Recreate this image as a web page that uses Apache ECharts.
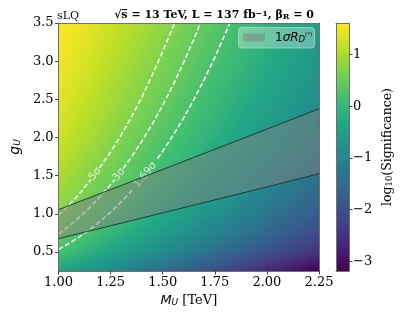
<!DOCTYPE html>
<html><head><meta charset="utf-8">
<script src="https://cdn.jsdelivr.net/npm/echarts@6/dist/echarts.min.js"></script>
<style>html,body{margin:0;padding:0;background:#fff}#c{width:401px;height:316px}</style>
</head><body><div id="c"></div>
<script>
// ---------- data ----------
const M_VALUES = [1.0, 1.125, 1.25, 1.375, 1.5, 1.625, 1.75, 1.875, 2.0, 2.125, 2.25];
const G_VALUES = [0.25, 0.5, 0.75, 1.0, 1.25, 1.5, 1.75, 2.0, 2.25, 2.5, 2.75, 3.0, 3.25, 3.5];
// log10(Significance), one row per G value (bottom to top), one column per M value
const LOG_SIG = [
  [-0.40, -0.66, -0.94, -1.22, -1.50, -1.79, -2.08, -2.36, -2.65, -2.94, -3.19],
  [ 0.18, -0.09, -0.36, -0.63, -0.90, -1.17, -1.44, -1.71, -1.98, -2.25, -2.52],
  [ 0.49,  0.23, -0.03, -0.29, -0.55, -0.81, -1.07, -1.32, -1.58, -1.84, -2.10],
  [ 0.72,  0.46,  0.21, -0.04, -0.30, -0.55, -0.80, -1.05, -1.31, -1.56, -1.81],
  [ 0.89,  0.64,  0.39,  0.15, -0.10, -0.35, -0.59, -0.84, -1.09, -1.34, -1.58],
  [ 1.03,  0.79,  0.54,  0.30,  0.06, -0.18, -0.43, -0.67, -0.91, -1.15, -1.40],
  [ 1.15,  0.91,  0.67,  0.43,  0.19, -0.05, -0.28, -0.52, -0.76, -1.00, -1.24],
  [ 1.25,  1.02,  0.78,  0.54,  0.31,  0.07, -0.16, -0.40, -0.63, -0.87, -1.10],
  [ 1.34,  1.11,  0.88,  0.64,  0.41,  0.18, -0.05, -0.29, -0.52, -0.75, -0.98],
  [ 1.42,  1.19,  0.96,  0.73,  0.50,  0.27,  0.04, -0.19, -0.42, -0.65, -0.88],
  [ 1.48,  1.27,  1.04,  0.81,  0.59,  0.36,  0.13, -0.10, -0.32, -0.55, -0.78],
  [ 1.53,  1.34,  1.11,  0.89,  0.66,  0.44,  0.21, -0.01, -0.24, -0.46, -0.69],
  [ 1.57,  1.40,  1.18,  0.96,  0.73,  0.51,  0.29,  0.06, -0.16, -0.38, -0.61],
  [ 1.61,  1.46,  1.24,  1.02,  0.80,  0.58,  0.35,  0.13, -0.09, -0.31, -0.53]
];
// significance contours [M, g]; null marks the gap left for the inline label
const CONTOUR_5SIGMA = [[1.0,0.98],[1.05,1.115],[1.1,1.26],[1.155,1.45],null,[1.196,1.60],[1.25,1.81],[1.3,2.03],[1.35,2.27],[1.4,2.53],[1.45,2.82],[1.5,3.13],[1.557,3.5]];
const CONTOUR_3SIGMA = [[1.0,0.735],[1.05,0.84],[1.1,0.956],[1.15,1.084],[1.2,1.227],[1.25,1.383],[1.27,1.45],null,[1.31,1.593],[1.35,1.745],[1.4,1.952],[1.45,2.178],[1.5,2.424],[1.55,2.69],[1.6,2.98],[1.65,3.29],[1.68,3.5]];
const CONTOUR_169SIGMA = [[1.0,0.533],[1.05,0.611],[1.1,0.698],[1.15,0.795],[1.2,0.903],[1.25,1.022],[1.3,1.154],[1.355,1.314],null,[1.475,1.725],[1.5,1.822],[1.55,2.029],[1.6,2.254],[1.65,2.5],[1.7,2.765],[1.75,3.05],[1.8,3.36],[1.822,3.5]];
const CONTOUR_LABELS = ['5σ', '3σ', '1.69σ'];
const CONTOUR_LABEL_POS = [[1.175, 1.52], [1.29, 1.515], [1.415, 1.51]];
// 1 sigma R_D(*) band
const BAND_M = [1.0, 1.25, 1.5, 1.75, 2.0, 2.25];
const BAND_UPPER = [1.054, 1.318, 1.58, 1.845, 2.11, 2.375];
const BAND_LOWER = [0.674, 0.843, 1.012, 1.182, 1.352, 1.525];
// ticks
const X_TICKS = [1.0, 1.25, 1.5, 1.75, 2.0, 2.25];
const Y_TICKS = [0.5, 1.0, 1.5, 2.0, 2.5, 3.0, 3.5];
const CB_TICKS = [-3, -2, -1, 0, 1];
const CB_MIN = -3.19, CB_MAX = 1.61;

// ---------- helpers ----------
function hexToRgb(h){return [parseInt(h.slice(1,3),16),parseInt(h.slice(3,5),16),parseInt(h.slice(5,7),16)];}
const VIRIDIS_HEX = ['#440154','#482475','#414487','#355f8d','#2a788e','#21918c','#22a884','#44bf70','#7ad151','#bddf26','#fde725'];
const VIRIDIS = VIRIDIS_HEX.map(hexToRgb);
function viridis(v){
  let t=(v-CB_MIN)/(CB_MAX-CB_MIN); t=Math.max(0,Math.min(1,t));
  const s=t*10, i=Math.min(9,Math.floor(s)), f=s-i, a=VIRIDIS[i], b=VIRIDIS[i+1];
  return 'rgb('+[0,1,2].map(k=>Math.round(a[k]+(b[k]-a[k])*f)).join(',')+')';
}
const cells=[];
for (let j=0;j<G_VALUES.length-1;j++) for (let i=0;i<M_VALUES.length-1;i++)
  cells.push([M_VALUES[i],G_VALUES[j],M_VALUES[i+1],G_VALUES[j+1],LOG_SIG[j][i],LOG_SIG[j][i+1],LOG_SIG[j+1][i],LOG_SIG[j+1][i+1]]);

function renderCell(params, api){
  const p0=api.coord([api.value(0),api.value(1)]), p1=api.coord([api.value(2),api.value(3)]);
  const x=p0[0], y=p1[1], w=p1[0]-p0[0], h=p0[1]-p1[1];
  const v00=api.value(4), v10=api.value(5), v01=api.value(6), v11=api.value(7);
  const gx=((v10-v00)+(v11-v01))/(2*w);
  const gy=((v00-v01)+(v10-v11))/(2*h);
  const vc=(v00+v10+v01+v11)/4, cx=x+w/2, cy=y+h/2, gm=Math.hypot(gx,gy);
  let fill;
  if (gm<1e-9) fill=viridis(vc);
  else {
    const ux=gx/gm, uy=gy/gm, t=0.5*Math.hypot(w,h), vs=vc-t*gm, ve=vc+t*gm, stops=[];
    for (let k=0;k<=6;k++) stops.push({offset:k/6,color:viridis(vs+(ve-vs)*k/6)});
    fill=new echarts.graphic.LinearGradient(cx-ux*t,cy-uy*t,cx+ux*t,cy+uy*t,stops,true);
  }
  return {type:'rect', shape:{x:x-0.4,y:y-0.4,width:w+0.8,height:h+0.8}, style:{fill:fill}};
}
function renderBand(params, api){
  const pts=[];
  for (let k=0;k<BAND_M.length;k++) pts.push(api.coord([BAND_M[k],BAND_UPPER[k]]));
  for (let k=BAND_M.length-1;k>=0;k--) pts.push(api.coord([BAND_M[k],BAND_LOWER[k]]));
  return {type:'polygon', shape:{points:pts}, style:{fill:'rgba(128,128,128,0.5)'}};
}
function renderColorbar(params, api){
  const p0=api.coord([0,CB_MIN]), p1=api.coord([1,CB_MAX]);
  const stops=VIRIDIS_HEX.map((c,k)=>({offset:k/10,color:c}));
  return {type:'rect', shape:{x:p0[0],y:p1[1],width:p1[0]-p0[0],height:p0[1]-p1[1]},
    style:{fill:new echarts.graphic.LinearGradient(0,1,0,0,stops)}};
}
function segments(arr){
  const out=[[]];
  arr.forEach(p=>{ if(p===null) out.push([]); else out[out.length-1].push(p); });
  return out;
}

const series=[];
series.push({type:'custom', xAxisIndex:0, yAxisIndex:0, renderItem:renderCell, data:cells, encode:{x:[0,2],y:[1,3]}, clip:true, z:1, silent:true});
[CONTOUR_5SIGMA, CONTOUR_3SIGMA, CONTOUR_169SIGMA].forEach(c=>{
  segments(c).forEach(seg=>series.push({type:'line', xAxisIndex:0, yAxisIndex:0, data:seg, showSymbol:false, symbol:'none',
    lineStyle:{color:'#ffffff', width:1.5, type:[5,2.5]}, z:3, silent:true}));
});
series.push({type:'scatter', xAxisIndex:0, yAxisIndex:0, symbolSize:0, z:4, silent:true,
  data: CONTOUR_LABELS.map((t,k)=>({value:CONTOUR_LABEL_POS[k], label:{formatter:t, rotate:[51,52,50][k]}})),
  label:{show:true, position:'inside', color:'#ffffff', fontSize:10.5, fontFamily:'DejaVu Sans'}});
series.push({type:'custom', xAxisIndex:0, yAxisIndex:0, renderItem:renderBand, data:[[BAND_M[0],BAND_LOWER[0]]], z:5, silent:true});
series.push({type:'line', xAxisIndex:0, yAxisIndex:0, data:BAND_M.map((m,k)=>[m,BAND_UPPER[k]]), showSymbol:false, symbol:'none', lineStyle:{color:'rgba(25,45,45,0.85)', width:1}, z:6, silent:true});
series.push({type:'line', xAxisIndex:0, yAxisIndex:0, data:BAND_M.map((m,k)=>[m,BAND_LOWER[k]]), showSymbol:false, symbol:'none', lineStyle:{color:'rgba(25,45,45,0.85)', width:1}, z:6, silent:true});
series.push({type:'custom', xAxisIndex:2, yAxisIndex:2, renderItem:renderColorbar, data:[[0,CB_MIN]], z:1, silent:true});

const FRAME='#707070';
const serif='DejaVu Serif';
function lineOnlyAxis(extra){
  return Object.assign({type:'value', z:10, axisLine:{show:true,onZero:false,lineStyle:{color:FRAME,width:1}}, axisTick:{show:false}, axisLabel:{show:false}, splitLine:{show:false}}, extra);
}
const option={
  animation:false,
  backgroundColor:'#ffffff',
  title:[
    {text:'sLQ', left:52, top:6, textStyle:{fontFamily:serif, fontSize:11, fontWeight:'normal', color:'#000'}},
    {text:'{b|√s\u0305 = 13 TeV, L = 137 fb}{p|−1}{b|, β}{s|R}{b| = 0}', right:82, top:5,
     textStyle:{rich:{
       b:{fontFamily:serif, fontWeight:'bold', fontSize:11, color:'#000'},
       p:{fontFamily:serif, fontWeight:'bold', fontSize:8, color:'#000', verticalAlign:'top'},
       s:{fontFamily:serif, fontWeight:'bold', fontSize:8, color:'#000', verticalAlign:'bottom'}
     }}}
  ],
  grid:[
    {left:53, top:23, width:266, height:248},
    {left:336, top:23, width:13, height:248}
  ],
  xAxis:[
    {gridIndex:0, type:'value', min:1, max:2.25, interval:0.25, position:'bottom', z:10,
     axisLine:{show:true,onZero:false,lineStyle:{color:FRAME,width:1}},
     axisTick:{show:true,length:3.5,inside:false,lineStyle:{color:'#444'}},
     axisLabel:{customValues:X_TICKS, formatter:v=>Number(v).toFixed(2), fontFamily:serif, fontSize:13, color:'#000', margin:5},
     splitLine:{show:false},
     name:'{i|M}{s|U}{n| [TeV]}', nameLocation:'middle', nameGap:22,
     nameTextStyle:{rich:{
       i:{fontFamily:'DejaVu Sans', fontStyle:'italic', fontSize:13, color:'#000'},
       s:{fontFamily:'DejaVu Sans', fontStyle:'italic', fontSize:9, color:'#000', verticalAlign:'bottom'},
       n:{fontFamily:serif, fontSize:13, color:'#000'}}}},
    lineOnlyAxis({gridIndex:0, min:1, max:2.25, position:'top'}),
    lineOnlyAxis({gridIndex:1, min:0, max:1, position:'bottom'}),
    lineOnlyAxis({gridIndex:1, min:0, max:1, position:'top'})
  ],
  yAxis:[
    {gridIndex:0, type:'value', min:0.25, max:3.5, position:'left', z:10,
     axisLine:{show:true,onZero:false,lineStyle:{color:FRAME,width:1}},
     axisTick:{show:true,length:3.5,inside:false,customValues:Y_TICKS,lineStyle:{color:'#444'}},
     axisLabel:{customValues:Y_TICKS, formatter:v=>Number(v).toFixed(1), fontFamily:serif, fontSize:13, color:'#000', margin:5},
     splitLine:{show:false},
     name:'{i|g}{s|U}', nameLocation:'middle', nameGap:30,
     nameTextStyle:{rich:{
       i:{fontFamily:'DejaVu Sans', fontStyle:'italic', fontSize:14, color:'#000'},
       s:{fontFamily:'DejaVu Sans', fontStyle:'italic', fontSize:9, color:'#000', verticalAlign:'bottom'}}}},
    lineOnlyAxis({gridIndex:0, min:0.25, max:3.5, position:'right'}),
    {gridIndex:1, type:'value', min:CB_MIN, max:CB_MAX, position:'right', z:10,
     axisLine:{show:true,onZero:false,lineStyle:{color:FRAME,width:1}},
     axisTick:{show:true,length:3.5,inside:false,customValues:CB_TICKS,lineStyle:{color:'#444'}},
     axisLabel:{customValues:CB_TICKS, formatter:v=>(v<0?'−'+Math.abs(v):String(v)), fontFamily:serif, fontSize:13, color:'#000', margin:4},
     splitLine:{show:false},
     name:'{n|log}{s|10}{n|(Significance)}', nameLocation:'middle', nameGap:32,
     nameTextStyle:{rich:{
       n:{fontFamily:serif, fontSize:12.5, color:'#000'},
       s:{fontFamily:serif, fontSize:8.5, color:'#000', verticalAlign:'bottom'}}}},
    lineOnlyAxis({gridIndex:1, min:CB_MIN, max:CB_MAX, position:'left'})
  ],
  graphic:[
    {type:'rect', z:100, shape:{x:238.5,y:27.5,width:76,height:20.5,r:3}, style:{fill:'rgba(255,255,255,0.3)', stroke:'rgba(215,215,215,0.6)', lineWidth:1}},
    {type:'rect', z:101, shape:{x:243,y:33.5,width:22,height:8}, style:{fill:'rgba(128,128,128,0.5)'}},
    {type:'text', z:101, x:275, y:38, style:{text:'{a|1}{g|σ}{r|R}{s|D}{p|(*)}', verticalAlign:'middle', align:'left',
      rich:{
        a:{fontFamily:'DejaVu Sans', fontSize:12, fill:'#000'},
        g:{fontFamily:'DejaVu Sans', fontStyle:'italic', fontSize:12, fill:'#000'},
        r:{fontFamily:'DejaVu Sans', fontStyle:'italic', fontSize:12, fill:'#000'},
        s:{fontFamily:'DejaVu Sans', fontStyle:'italic', fontSize:8.5, fill:'#000', verticalAlign:'bottom'},
        p:{fontFamily:'DejaVu Sans', fontSize:5.5, fill:'#000', verticalAlign:'top'}
      }}}
  ],
  series:series
};
const chart=echarts.init(document.getElementById('c'),null,{renderer:'canvas'});
chart.setOption(option);
</script></body></html>
